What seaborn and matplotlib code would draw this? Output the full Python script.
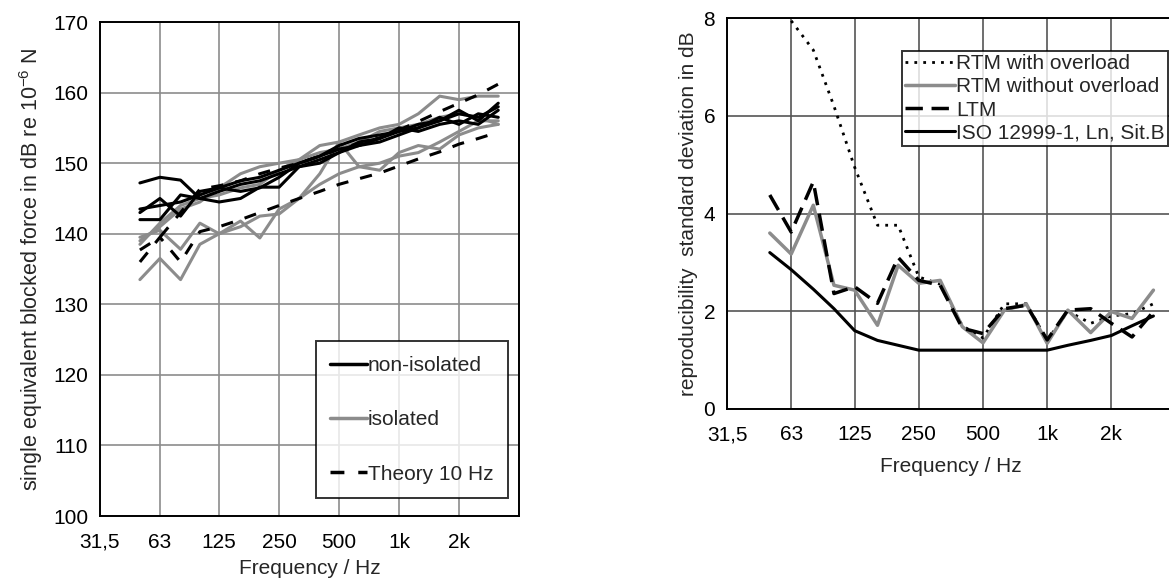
import numpy as np
import pandas as pd
import matplotlib
matplotlib.use('Agg')
import matplotlib.pyplot as plt
from matplotlib.lines import Line2D
import seaborn as sns

# third-octave band centre frequencies
freqs = [50, 63, 80, 100, 125, 160, 200, 250, 315, 400, 500, 630, 800,
         1000, 1250, 1600, 2000, 2500, 3150]
oct_ticks = [31.5, 63, 125, 250, 500, 1000, 2000, 4000]
oct_labels = ['31,5', '63', '125', '250', '500', '1k', '2k', '']

# left: blocked force, non-isolated (black)
non_iso_1 = [147.2, 148.0, 147.6, 145.0, 146.0, 147.0, 147.5, 148.5, 149.5, 150.5, 151.5, 152.5, 153.5, 154.5, 155.5, 156.0, 157.0, 156.5, 158.0]
non_iso_2 = [143.0, 145.0, 142.5, 146.0, 146.5, 146.0, 146.5, 148.0, 150.0, 151.0, 152.0, 152.5, 153.0, 154.0, 155.0, 156.5, 155.5, 157.0, 156.5]
non_iso_3 = [142.0, 142.0, 145.5, 145.0, 144.5, 145.0, 146.6, 146.6, 149.5, 150.0, 151.5, 153.0, 153.5, 155.0, 154.5, 155.5, 156.0, 155.5, 157.5]
non_iso_4 = [143.5, 144.0, 144.5, 145.5, 146.5, 147.5, 148.0, 149.0, 150.0, 151.0, 152.5, 153.5, 154.0, 154.5, 155.0, 156.0, 157.5, 156.0, 158.5]

# left: isolated (gray)
iso_1 = [139.0, 141.0, 143.5, 144.5, 146.5, 148.5, 149.5, 150.0, 150.5, 152.5, 153.0, 154.0, 155.0, 155.5, 157.0, 159.5, 159.0, 159.5, 159.5]
iso_2 = [139.5, 140.5, 137.8, 141.5, 140.0, 141.8, 139.4, 143.5, 145.0, 148.5, 153.0, 149.5, 149.0, 151.5, 152.5, 152.0, 154.0, 155.0, 155.5]
iso_3 = [133.5, 136.5, 133.5, 138.5, 140.0, 141.0, 142.5, 142.8, 145.0, 147.0, 148.5, 149.5, 150.0, 151.0, 151.5, 153.0, 154.5, 156.0, 156.0]
iso_4 = [138.5, 141.5, 144.0, 145.0, 145.5, 146.5, 147.0, 149.0, 150.5, 151.5, 152.0, 153.0, 154.5, 155.0, 155.5, 156.5, 157.0, 156.5, 155.5]

# left: theory 10 Hz (dashed)
theory_hi = [137.7, 139.5, 143.0, 146.3, 146.8, 147.5, 148.5, 149.3, 150.0, 151.0, 152.0, 152.8, 153.6, 154.7, 155.9, 157.3, 158.5, 159.7, 161.2]
theory_lo = [136.0, 139.5, 136.0, 140.3, 141.0, 142.0, 143.0, 144.0, 145.0, 146.0, 147.0, 147.8, 148.6, 149.6, 150.6, 151.6, 152.7, 153.5, 154.4]

# right: reproducibility standard deviation
rtm_overload = [np.nan, 7.95, 7.35, 6.2, 4.95, 3.76, 3.76, 2.7, 2.55, 1.7, 1.45, 2.15, 2.15, 1.4, 2.0, 1.75, 1.9, 1.95, 2.15]
rtm_no_overload = [3.6, 3.17, 4.17, 2.53, 2.43, 1.71, 2.94, 2.57, 2.63, 1.68, 1.35, 2.02, 2.14, 1.34, 2.02, 1.56, 1.99, 1.85, 2.43]
ltm = [4.38, 3.62, 4.65, 2.36, 2.5, 2.16, 3.1, 2.63, 2.53, 1.65, 1.54, 2.05, 2.12, 1.41, 2.02, 2.05, 1.75, 1.47, 1.99]
iso_12999 = [3.2, 2.85, 2.45, 2.05, 1.6, 1.4, 1.3, 1.2, 1.2, 1.2, 1.2, 1.2, 1.2, 1.2, 1.3, 1.4, 1.5, 1.7, 1.9]

sns.set_style('white')
plt.rcParams['font.family'] = ['Liberation Sans', 'DejaVu Sans']
plt.rcParams['mathtext.default'] = 'regular'
FS = 15

GRAY = '#8c8c8c'


def style_axis(ax, ylim, yticks, grid_color, xlabelpad):
    ax.set_xscale('log', base=2)
    ax.set_xticks(oct_ticks)
    ax.set_xticklabels(oct_labels)
    ax.xaxis.set_minor_locator(matplotlib.ticker.NullLocator())
    ax.set_ylim(*ylim)
    ax.set_yticks(yticks)
    ax.set_xlim(31.5, 4000)
    ax.grid(True, color=grid_color, lw=1.2)
    ax.set_axisbelow(True)
    for s in ax.spines.values():
        s.set_color('black')
        s.set_linewidth(1.4)
    ax.tick_params(axis='x', direction='inout', length=8, width=1.2, colors='black', labelsize=FS, pad=8)
    ax.tick_params(axis='y', direction='out', length=5, width=1.2, colors='black', labelsize=FS)
    ax.set_xlabel('Frequency / Hz', fontsize=FS, labelpad=xlabelpad)


fig = plt.figure(figsize=(11.69, 5.8), dpi=100)

# ---- left chart
ax1 = fig.add_axes([0.0855, 0.1103, 0.3584, 0.8517])
for vals in [iso_1, iso_2, iso_3, iso_4]:
    sns.lineplot(x=freqs, y=vals, ax=ax1, color=GRAY, lw=2.2)
for vals in [non_iso_1, non_iso_2, non_iso_3, non_iso_4]:
    sns.lineplot(x=freqs, y=vals, ax=ax1, color='black', lw=2.2)
for vals in [theory_hi, theory_lo]:
    sns.lineplot(x=freqs, y=vals, ax=ax1, color='black', lw=2.2, dashes=False,
                 linestyle=(0, (4, 4)))
style_axis(ax1, (100, 170), range(100, 171, 10), GRAY, 5)
ax1.set_ylabel('single equivalent blocked force in dB re 10$^{-6}$ N', fontsize=15.5, labelpad=6)

handles = [Line2D([], [], color='black', lw=2.5),
           Line2D([], [], color=GRAY, lw=2.5),
           Line2D([], [], color='black', lw=2.5, linestyle=(0, (4, 4)))]
leg1 = ax1.legend(handles, ['non-isolated', 'isolated', 'Theory 10 Hz'],
                  loc='lower right', bbox_to_anchor=(0.974, 0.036),
                  frameon=True, fancybox=False, edgecolor='black',
                  handlelength=1.75, handletextpad=0.05, labelspacing=1.7,
                  borderpad=0.7, borderaxespad=0.0, fontsize=FS)
leg1.get_frame().set_linewidth(1.4)

# ---- right chart
ax2 = fig.add_axes([0.6219, 0.2953, 0.3837, 0.6731])
sns.lineplot(x=freqs, y=rtm_overload, ax=ax2, color='black', lw=2.0,
             linestyle=(0, (1, 2.2)), label='RTM with overload')
sns.lineplot(x=freqs, y=rtm_no_overload, ax=ax2, color=GRAY, lw=2.5,
             label='RTM without overload')
sns.lineplot(x=freqs, y=ltm, ax=ax2, color='black', lw=2.5,
             linestyle=(0, (5, 2.5)), label='LTM')
sns.lineplot(x=freqs, y=iso_12999, ax=ax2, color='black', lw=2.2,
             label='ISO 12999-1, Ln, Sit.B')
style_axis(ax2, (0, 8), range(0, 9, 2), '#555555', 9)
ax2.set_ylabel('reproducibility  standard deviation in dB', fontsize=15)
leg2 = ax2.legend(loc='upper right', bbox_to_anchor=(0.983, 0.916),
                  frameon=True, fancybox=False, edgecolor='black',
                  handlelength=2.4, handletextpad=0.05, labelspacing=0.2,
                  borderpad=0.15, borderaxespad=0.0, fontsize=FS)
leg2.get_frame().set_linewidth(1.4)

fig.savefig('out.png', dpi=100)
